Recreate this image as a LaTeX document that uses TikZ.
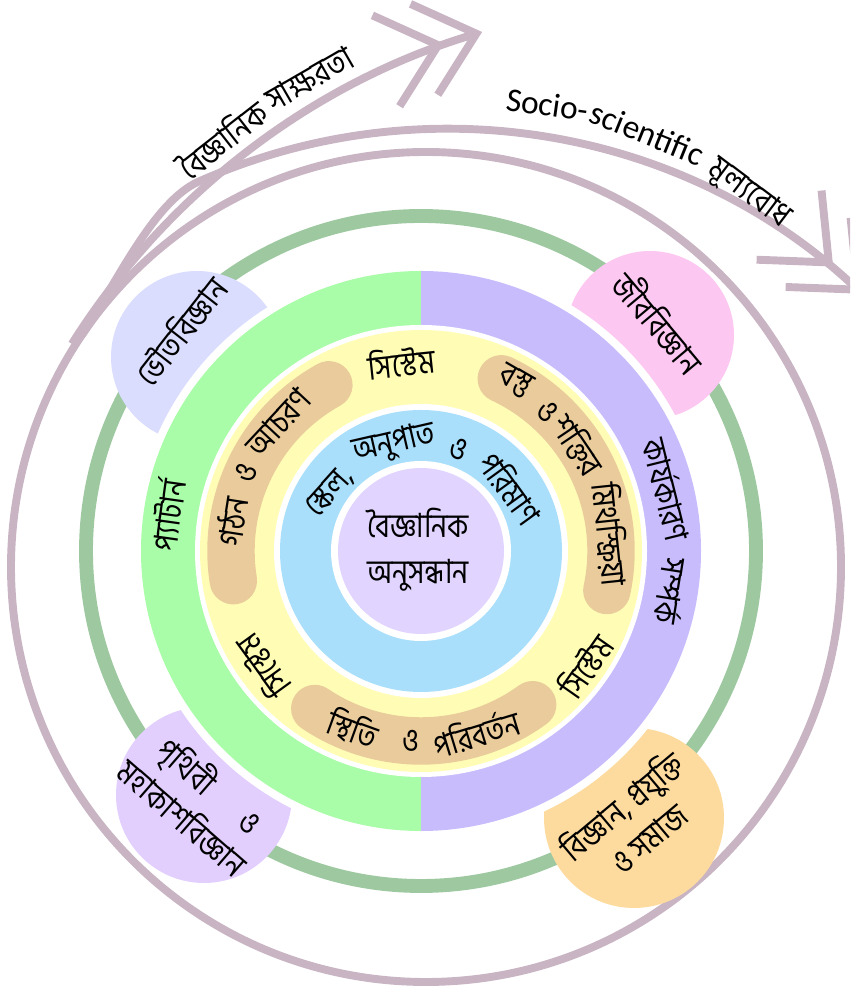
\documentclass[tikz,border=0pt]{standalone}
\usepackage{fontspec}
\setmainfont{Carlito}
\newfontfamily\bn[Script=Bengali, FakeStretch=0.85]{Hind Siliguri}
\usetikzlibrary{arrows.meta}

\definecolor{MyMauve}{HTML}{C8B4C3}
\definecolor{MyRing}{HTML}{9DC8A0}
\definecolor{MyGreen}{HTML}{A9FCA8}
\definecolor{MyViolet}{HTML}{C8BCFD}
\definecolor{MyYellow}{HTML}{FFFDB5}
\definecolor{MyTan}{HTML}{EACC9C}
\definecolor{MyBlue}{HTML}{A9DFFB}
\definecolor{MyLilac}{HTML}{E1D5FF}
\definecolor{MyPhys}{HTML}{DADDFD}
\definecolor{MyBio}{HTML}{FCC8F2}
\definecolor{MyEarth}{HTML}{E2CFFD}
\definecolor{MySoc}{HTML}{FDDB9F}

\tikzset{
  bangla/.style={font=\bn\fontsize{19}{22}\selectfont, inner sep=0pt},
  latin/.style={font=\fontsize{19}{22}\selectfont, inner sep=0pt},
  cycleline/.style={MyMauve, line width=4.5pt},
  chevrons/.style={-{Straight Barb[length=31pt, width=54pt, sep=-14pt] Straight Barb[length=31pt, width=54pt]}},
  band/.style={MyTan, line width=27pt, line cap=round},
}

\begin{document}
\begin{tikzpicture}[x=0.02cm, y=0.02cm]
	\clip (0,0) rectangle (850,990);
	
	\coordinate (O) at (421,439);
	\coordinate (L) at (426,423);
	\coordinate (A) at (693,255);
	\coordinate (B) at (446,253);
	
	% outer cycle and its two arrows
	\draw[cycleline] (L) circle (415);
	\draw[cycleline, chevrons] ([shift={(147.8:734)}]A) arc[start angle=147.8, end angle=106.7, radius=734];
	\draw[cycleline, chevrons] ([shift={(146:415)}]L) .. controls +(56:60) and +(204:50) .. ([shift={(114:608)}]B)
		arc[start angle=114, end angle=46.8, radius=608];
	
	\node[bangla, rotate=38] (litA) at ([shift={(128.3:760)}]A) {বৈজ্ঞানিক};
	\node[bangla, rotate=30] (litB) at ([shift={(120.3:760)}]A) {সাক্ষরতা};
	
	\node[latin, rotate=-8, anchor=base west] (socA) at (505,880) {Socio-};
	\node[latin, rotate=-22, anchor=base west] (socB) at (socA.base east) {scientific};
	\node[bangla, rotate=-37, anchor=base west] (socC) at (socB.base east) {\hspace{0.3em}মূল্যবোধ};
	
	% green ring and the four subjects
	\draw[MyRing, line width=7.9pt] (O) circle (335);
	
	\fill[MyPhys] (197,633) circle (86);
	\fill[MyBio] (650,655) circle (84);
	\fill[MyEarth] (204,195) circle (88);
	\fill[MySoc] (634,172) circle (90);
	
	\node[bangla, rotate=52] (phys) at (180,660) {ভৌতবিজ্ঞান};
	\node[bangla, rotate=-50] (bio) at (660,668) {জীববিজ্ঞান};
	\node[bangla, rotate=-41, align=center] (earth) at (198,190) {পৃথিবী\hspace{1.3em}ও\\[2pt]মহাকাশবিজ্ঞান};
	\node[bangla, rotate=40, align=center] (society) at (634,169) {বিজ্ঞান, প্রযুক্তি\\[2pt]ও সমাজ};
	
	% main disc
	\fill[white] (O) circle (288);
	\fill[MyGreen] (O) -- ++(90:280) arc[start angle=90, end angle=270, radius=280] -- cycle;
	\fill[MyViolet] (O) -- ++(-90:280) arc[start angle=-90, end angle=90, radius=280] -- cycle;
	\fill[white] (O) circle (226);
	\fill[MyYellow] (O) circle (221);
	
	\draw[band] ([shift={(119:190)}]O) arc[start angle=119, end angle=189, radius=190];
	\draw[band] ([shift={(65:190)}]O) arc[start angle=65, end angle=-12, radius=190];
	\draw[band] ([shift={(236:190)}]O) arc[start angle=236, end angle=306, radius=190];
	
	\fill[white] (O) circle (147);
	\fill[MyBlue] (O) circle (141);
	\fill[white] (O) circle (90);
	\fill[MyLilac] (O) circle (83);
	
	% outer band
	\node[bangla, rotate=82] (pattern) at ([shift={(172:256)}]O) {প্যাটার্ন};
	\node[bangla, rotate=-76] (causeA) at ([shift={(14:254)}]O) {কার্যকারণ};
	\node[bangla, rotate=-99] (causeB) at ([shift={(-9:254)}]O) {সম্পর্ক};
	
	% yellow band
	\node[bangla, rotate=6] (sysTop) at ([shift={(96:190)}]O) {সিস্টেম};
	\node[bangla, rotate=55] (sysRight) at ([shift={(-35:200)}]O) {সিস্টেম};
	\node[bangla, rotate=126] (sysLeft) at ([shift={(216:197)}]O) {সিস্টেম};
	
	\node[bangla, rotate=81] (formA) at ([shift={(171:192)}]O) {গঠন};
	\node[bangla, rotate=66] (formB) at ([shift={(156:192)}]O) {ও};
	\node[bangla, rotate=47] (formC) at ([shift={(138:192)}]O) {আচরণ};
	
	\node[bangla, rotate=-30] (matA) at ([shift={(61:194)}]O) {বস্তু};
	\node[bangla, rotate=-43] (matB) at ([shift={(48:188)}]O) {ও};
	\node[bangla, rotate=-56] (matC) at ([shift={(34:190)}]O) {শক্তির};
	\node[bangla, rotate=-84] (matD) at ([shift={(5:190)}]O) {মিথস্ক্রিয়া};
	
	\node[bangla, rotate=-20] (stabA) at ([shift={(249:190)}]O) {স্থিতি};
	\node[bangla, rotate=-3] (stabB) at ([shift={(267:190)}]O) {ও};
	\node[bangla, rotate=17] (stabC) at ([shift={(287:190)}]O) {পরিবর্তন};
	
	% blue band
	\node[bangla, rotate=48] (scaleA) at ([shift={(147:108)}]O) {স্কেল,};
	\node[bangla, rotate=13] (scaleB) at ([shift={(104:110)}]O) {অনুপাত};
	\node[bangla, rotate=-20] (scaleC) at ([shift={(70:108)}]O) {ও};
	\node[bangla, rotate=-54] (scaleD) at ([shift={(35:110)}]O) {পরিমাণ};
	
	\node[bangla, align=center] (inquiry) at (418,440) {বৈজ্ঞানিক\\[4pt]অনুসন্ধান};
\end{tikzpicture}
\end{document}
